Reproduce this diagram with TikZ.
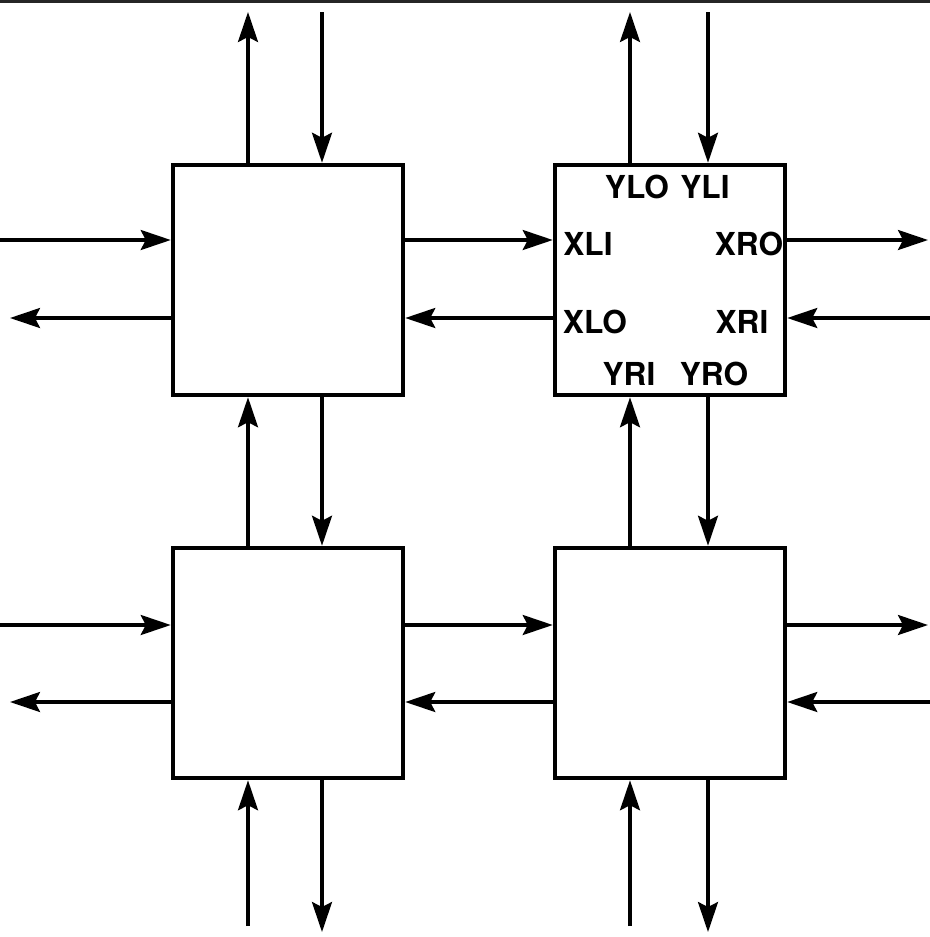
\documentclass[tikz,border=0pt]{standalone}
\usepackage{fontspec}
\setmainfont{TeX Gyre Heros}
\usetikzlibrary{arrows.meta}
\begin{document}
\begin{tikzpicture}[
    x=0.02cm, y=-0.02cm,
    every node/.style={font=\bfseries\fontsize{18}{21}\selectfont, inner sep=0pt},
    cell/.style={rectangle, draw=black, line width=2.6pt, minimum width=4.6cm, minimum height=4.6cm},
    arr/.style={-{Stealth[length=0.6cm, width=0.4cm, inset=0.1cm]}, line width=1.8pt}
]
\useasboundingbox (0,0) rectangle (930,937);
\draw[line width=2.5pt, black!85] (0,1) -- (930,1);
% the four cells
\node[cell] (nw) at (288,280) {};
\node[cell] (ne) at (670,280) {};
\node[cell] (sw) at (288,663) {};
\node[cell] (se) at (670,663) {};
% port names
\node (ylo) at (637,187) {YLO};
\node (yli) at (705,187) {YLI};
\node (xli) at (588,244) {XLI};
\node (xro) at (749,244) {XRO};
\node (xlo) at (595,322) {XLO};
\node (xri) at (742,322) {XRI};
\node (yri) at (629,374) {YRI};
\node (yro) at (714,374) {YRO};
% free ends
\coordinate (top1) at (248,12);  \coordinate (top2) at (322,12);
\coordinate (top3) at (630,12);  \coordinate (top4) at (708,12);
\coordinate (bot1) at (248,926); \coordinate (bot2) at (322,932);
\coordinate (bot3) at (630,926); \coordinate (bot4) at (708,932);
\coordinate (lft1) at (0,240);   \coordinate (lft2) at (10,318);
\coordinate (lft3) at (0,625);   \coordinate (lft4) at (10,702);
\coordinate (rgt1) at (928,240); \coordinate (rgt2) at (930,318);
\coordinate (rgt3) at (928,625); \coordinate (rgt4) at (930,702);
% vertical links
\draw[arr] (nw.north -| top1) -- (top1);
\draw[arr] (top2) -- (nw.north -| top2);
\draw[arr] (ne.north -| top3) -- (top3);
\draw[arr] (top4) -- (ne.north -| top4);
\draw[arr] (sw.north -| top1) -- (nw.south -| top1);
\draw[arr] (nw.south -| top2) -- (sw.north -| top2);
\draw[arr] (se.north -| top3) -- (ne.south -| top3);
\draw[arr] (ne.south -| top4) -- (se.north -| top4);
\draw[arr] (bot1) -- (sw.south -| bot1);
\draw[arr] (sw.south -| bot2) -- (bot2);
\draw[arr] (bot3) -- (se.south -| bot3);
\draw[arr] (se.south -| bot4) -- (bot4);
% horizontal links
\draw[arr] (lft1) -- (nw.west |- lft1);
\draw[arr] (nw.west |- lft2) -- (lft2);
\draw[arr] (lft3) -- (sw.west |- lft3);
\draw[arr] (sw.west |- lft4) -- (lft4);
\draw[arr] (nw.east |- lft1) -- (ne.west |- lft1);
\draw[arr] (ne.west |- lft2) -- (nw.east |- lft2);
\draw[arr] (sw.east |- lft3) -- (se.west |- lft3);
\draw[arr] (se.west |- lft4) -- (sw.east |- lft4);
\draw[arr] (ne.east |- rgt1) -- (rgt1);
\draw[arr] (rgt2) -- (ne.east |- rgt2);
\draw[arr] (se.east |- rgt3) -- (rgt3);
\draw[arr] (rgt4) -- (se.east |- rgt4);
\end{tikzpicture}
\end{document}
